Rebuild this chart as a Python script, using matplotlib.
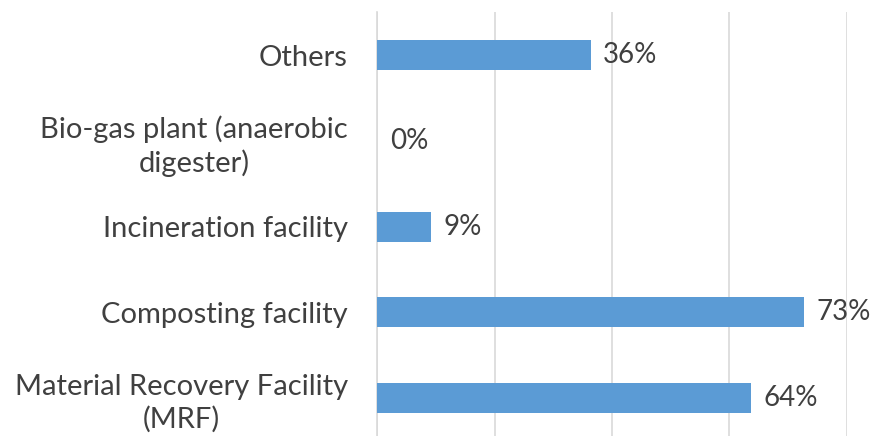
import matplotlib.pyplot as plt
import numpy as np

categories = ["Material Recovery Facility\n(MRF)", "Composting facility",
              "Incineration facility", "Bio-gas plant (anaerobic\ndigester)", "Others"]
values = [63.6, 72.7, 9.1, 0.0, 36.4]
labels = ["64%", "73%", "9%", "0%", "36%"]

plt.rcParams['font.family'] = ['Lato', 'DejaVu Sans']
txt = '#404040'

fig = plt.figure(figsize=(8.73, 4.36), dpi=100)
ax = fig.add_axes([0.432, -0.011, 0.538, 0.983])

y = np.arange(len(categories))
ax.barh(y, values, height=0.35, color='#5B9BD5', zorder=3)
for yi, v, lab in zip(y, values, labels):
    ax.annotate(lab, (v, yi), xytext=(9, 0), textcoords='offset points',
                va='center', ha='left', fontsize=20, color=txt)

ax.set_xlim(0, 80)
ax.set_ylim(-0.5, 4.5)
ax.set_xticks([0, 20, 40, 60, 80])
ax.set_xticklabels([])
ax.tick_params(axis='x', length=0)
ax.grid(axis='x', color='#D9D9D9', linewidth=1.2, zorder=0)
ax.set_yticks(y)
ax.set_yticklabels(categories, fontsize=21, color=txt, multialignment='center',
                   linespacing=1.25)
ax.tick_params(axis='y', length=0, pad=21)
for s in ['top', 'right', 'bottom']:
    ax.spines[s].set_visible(False)
ax.spines['left'].set_color('#D9D9D9')
ax.spines['left'].set_linewidth(1.2)

fig.savefig('out.png', dpi=100)
